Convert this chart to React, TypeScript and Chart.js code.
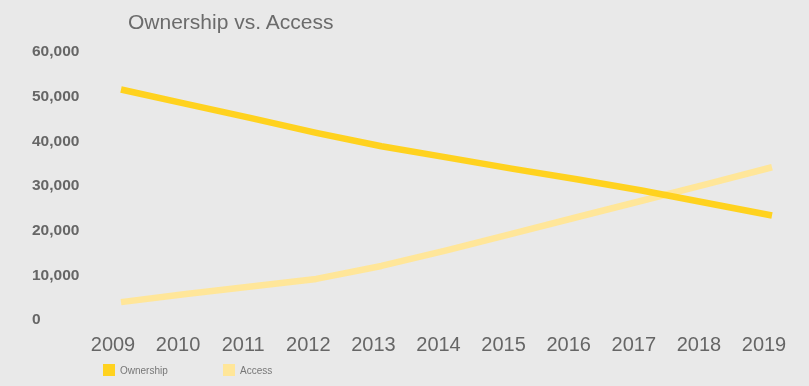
import React, { useEffect, useRef } from "react";
import { Chart, registerables } from "chart.js";

Chart.register(...registerables);

const TITLE = "Ownership vs. Access";
const YEARS = ["2009", "2010", "2011", "2012", "2013", "2014", "2015", "2016", "2017", "2018", "2019"];
const OWNERSHIP = [51600, 48400, 45200, 41900, 38900, 36400, 33900, 31500, 29000, 26200, 23400];
const ACCESS = [4000, 5800, 7500, 9200, 12100, 15600, 19300, 23000, 26700, 30400, 34200];
const SERIES_NAMES = ["Ownership", "Access"];
const SERIES_COLORS = ["#FFD21F", "#FFE699"];
const Y_MIN = 0;
const Y_MAX = 60000;
const Y_STEP = 10000;

const FONT = "'Liberation Sans', Arial, Helvetica, sans-serif";
const BG = "#e9e9e9";

export default function App() {
  const canvasRef = useRef<HTMLCanvasElement | null>(null);

  useEffect(() => {
    const canvas = canvasRef.current;
    if (!canvas) return;
    const chart = new Chart(canvas, {
      type: "line",
      data: {
        labels: YEARS,
        datasets: [
          {
            label: SERIES_NAMES[0],
            data: OWNERSHIP,
            borderColor: SERIES_COLORS[0],
            backgroundColor: SERIES_COLORS[0],
            borderWidth: 6.5,
            pointRadius: 0,
            tension: 0,
            borderCapStyle: "butt",
            borderJoinStyle: "round",
            fill: false,
          },
          {
            label: SERIES_NAMES[1],
            data: ACCESS,
            borderColor: SERIES_COLORS[1],
            backgroundColor: SERIES_COLORS[1],
            borderWidth: 6.5,
            pointRadius: 0,
            tension: 0,
            borderCapStyle: "butt",
            borderJoinStyle: "round",
            fill: false,
          },
        ],
      },
      options: {
        responsive: false,
        animation: false,
        devicePixelRatio: 1,
        layout: { padding: { left: 32, right: 37, top: 52, bottom: 16 } },
        plugins: {
          legend: { display: false },
          title: { display: false },
          tooltip: { enabled: false },
        },
        scales: {
          x: {
            type: "category",
            offset: false,
            grid: { display: false, drawTicks: false },
            border: { display: false },
            ticks: {
              color: "#666",
              font: { family: FONT, size: 20 },
              padding: 13,
              labelOffset: -8,
              autoSkip: false,
              maxRotation: 0,
            },
          },
          y: {
            min: Y_MIN,
            max: Y_MAX,
            grid: { display: false, drawTicks: false },
            border: { display: false },
            afterFit: (scale: any) => {
              scale.width = 89;
            },
            ticks: {
              stepSize: Y_STEP,
              color: "#666",
              crossAlign: "far",
              font: { family: FONT, size: 15.5, weight: "bold" },
              callback: (v: any) => Number(v).toLocaleString("en-US"),
            },
          },
        },
      },
    });
    return () => chart.destroy();
  }, []);

  return (
    <div
      style={{
        position: "fixed",
        left: 0,
        top: 0,
        width: 809,
        height: 386,
        background: BG,
        overflow: "hidden",
      }}
    >
      <canvas ref={canvasRef} width={809} height={386} style={{ position: "absolute", left: 0, top: 0, width: 809, height: 386 }} />
      <div
        style={{
          position: "absolute",
          left: 128,
          top: 10.5,
          fontFamily: FONT,
          fontSize: 21,
          lineHeight: "21px",
          color: "#6b6b6b",
          whiteSpace: "nowrap",
        }}
      >
        {TITLE}
      </div>
      {SERIES_NAMES.map((name, i) => (
        <div
          key={name}
          style={{
            position: "absolute",
            left: 103 + i * 120,
            top: 364,
            height: 12,
            display: "flex",
            alignItems: "center",
            fontFamily: FONT,
            fontSize: 10,
            color: "#777",
            whiteSpace: "nowrap",
          }}
        >
          <span style={{ display: "inline-block", width: 12, height: 12, background: SERIES_COLORS[i], marginRight: 5 }} />
          <span>{name}</span>
        </div>
      ))}
    </div>
  );
}
